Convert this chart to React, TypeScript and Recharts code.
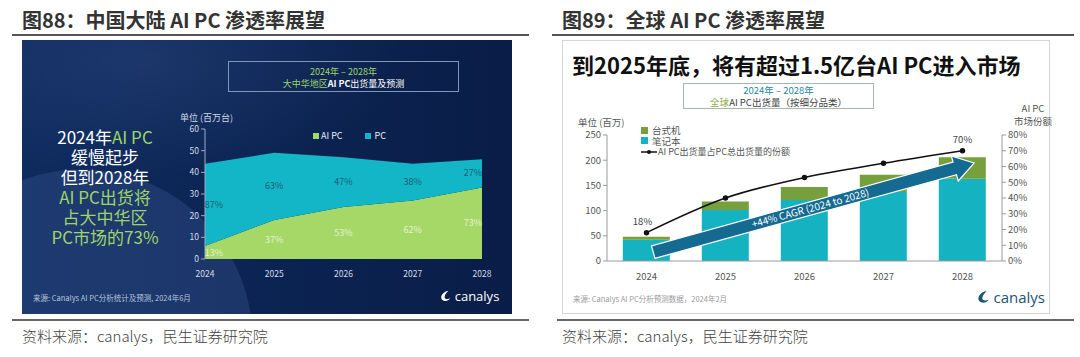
import React from "react";
import { ComposedChart, Area, Bar, Line, XAxis, YAxis, LabelList, ReferenceLine } from "recharts";

const FONT = '"Noto Sans CJK SC", "Noto Sans", sans-serif';

const years = ["2024", "2025", "2026", "2027", "2028"];

// 大中华区出货量（百万台）
const aiPcCn = [6, 18, 24, 27, 33];
const otherPcCn = [38, 31, 23, 17, 13];
const aiShareCn = ["13%", "37%", "53%", "62%", "73%"];
const otherShareCn = ["87%", "63%", "47%", "38%", "27%"];
const cnTicks = [0, 10, 20, 30, 40, 50, 60];

// 全球 AI PC 出货量（百万）
const notebook = [42, 101, 121, 137, 163];
const desktop = [6, 17, 26, 34, 43];
const aiShareGlobal = [18, 40, 53, 62, 70];
const unitTicks = [0, 50, 100, 150, 200, 250];
const shareTicks = [0, 10, 20, 30, 40, 50, 60, 70, 80];

const cnData = years.map((year, i) => ({
  year,
  ai: aiPcCn[i],
  pc: otherPcCn[i],
  aiMid: aiPcCn[i] / 2,
  pcMid: aiPcCn[i] + otherPcCn[i] / 2,
  aiLabel: aiShareCn[i],
  pcLabel: otherShareCn[i],
}));

const globalData = years.map((year, i) => ({
  year,
  notebook: notebook[i],
  desktop: desktop[i],
  share: aiShareGlobal[i],
}));

const cnLabel = (color: string) => (props: any) => {
  const { x, y, value, index } = props;
  const dx = index === 0 ? 9 : index === years.length - 1 ? -9 : 0;
  return (
    <text x={x + dx} y={y} dy={3} textAnchor="middle" fontSize={9} fill={color}>
      {value}
    </text>
  );
};

const shareLabel = (props: any) => {
  const { x, y, value, index } = props;
  if (index !== 0 && index !== years.length - 1) return null;
  return (
    <text x={x - (index === 0 ? 4 : 0)} y={y - 8} textAnchor="middle" fontSize={9.5} fill="#444">
      {value}%
    </text>
  );
};

const CagrArrow = (props: any) => {
  const { x1, y1, x2, y2 } = props;
  const dx = x2 - x1;
  const dy = y2 - y1;
  const len = Math.hypot(dx, dy);
  const ux = dx / len;
  const uy = dy / len;
  const nx = -uy;
  const ny = ux;
  const sx = x1 + ux * 7;
  const sy = y1 + uy * 7;
  const tx = x2 + ux * 12;
  const ty = y2 + uy * 12;
  const body = 6.5;
  const head = 13;
  const headLen = 20;
  const bx = tx - ux * headLen;
  const by = ty - uy * headLen;
  const pts = [
    [sx + nx * body, sy + ny * body],
    [bx + nx * body, by + ny * body],
    [bx + nx * head, by + ny * head],
    [tx, ty],
    [bx - nx * head, by - ny * head],
    [bx - nx * body, by - ny * body],
    [sx - nx * body, sy - ny * body],
  ]
    .map((p) => p.join(","))
    .join(" ");
  const total = Math.hypot(tx - sx, ty - sy);
  const cx = sx + ux * total * 0.49;
  const cy = sy + uy * total * 0.49;
  const angle = (Math.atan2(dy, dx) * 180) / Math.PI;
  return (
    <g>
      <polygon points={pts} fill="#146a91" stroke="#ffffff" strokeWidth={1.2} />
      <text
        x={cx}
        y={cy}
        dy={3.5}
        textAnchor="middle"
        fontSize={10}
        fill="#ffffff"
        transform={`rotate(${angle} ${cx} ${cy})`}
      >
        +44% CAGR (2024 to 2028)
      </text>
    </g>
  );
};

const CanalysLogo = ({ color, size }: { color: string; size: number }) => (
  <div style={{ display: "flex", alignItems: "center", gap: 3, color, fontSize: size, fontFamily: '"Open Sans", sans-serif' }}>
    <svg width={size * 0.9} height={size * 0.9} viewBox="0 0 14 14">
      <path d="M10 1 C4 2 0 7 2 11 C4 14 10 14 12 10 C9 11.5 5 11 5.5 8 C6 5 8.5 3 10 1 Z" fill={color} />
    </svg>
    <span>canalys</span>
  </div>
);

const abs = (left: number, top: number, extra: React.CSSProperties = {}): React.CSSProperties => ({
  position: "absolute",
  left,
  top,
  ...extra,
});

function ChinaChart() {
  return (
    <div
      style={abs(22, 40, {
        width: 490,
        height: 274,
        overflow: "hidden",
        background:
          "radial-gradient(circle at 60px 300px, rgba(70,100,160,0.28) 0, rgba(70,100,160,0.28) 170px, rgba(0,0,0,0) 171px), radial-gradient(ellipse 260px 120px at 120px 20px, rgba(80,110,170,0.22) 0, rgba(0,0,0,0) 100%), linear-gradient(90deg, #0e2b5e 0%, #0b2250 60%, #0a1d48 100%)",
      })}
    >
      <div style={abs(0, 0)}>
        <ComposedChart width={490} height={274} data={cnData} margin={{ top: 89, right: 30, bottom: 35, left: 153 }}>
          <XAxis
            dataKey="year"
            scale="point"
            height={20}
            axisLine={false}
            tickLine={false}
            tick={{ fill: "#d3dbea", fontSize: 8.5 }}
            tickMargin={6}
          />
          <YAxis
            domain={[0, 60]}
            ticks={cnTicks}
            width={30}
            axisLine={{ stroke: "#9aabc8" }}
            tickLine={{ stroke: "#9aabc8" }}
            tickSize={4}
            tick={{ fill: "#d3dbea", fontSize: 8.5 }}
          />
          <Area type="linear" dataKey="ai" stackId="cn" stroke="none" fill="#a6d867" fillOpacity={1} isAnimationActive={false} />
          <Area type="linear" dataKey="pc" stackId="cn" stroke="none" fill="#13b6c6" fillOpacity={1} isAnimationActive={false} />
          <Line dataKey="aiMid" stroke="none" dot={false} activeDot={false} isAnimationActive={false}>
            <LabelList dataKey="aiLabel" content={cnLabel("#e4f3cf")} />
          </Line>
          <Line dataKey="pcMid" stroke="none" dot={false} activeDot={false} isAnimationActive={false}>
            <LabelList dataKey="pcLabel" content={cnLabel("#1c5c78")} />
          </Line>
        </ComposedChart>
      </div>

      <div
        style={abs(206, 21, {
          width: 231,
          height: 31,
          border: "1px solid #7f97bb",
          textAlign: "center",
          fontSize: 9,
          lineHeight: "12px",
          paddingTop: 4,
          boxSizing: "border-box",
        })}
      >
        <div style={{ color: "#9fd46a" }}>2024年 – 2028年</div>
        <div style={{ color: "#ffffff" }}>
          <span style={{ color: "#9fd46a" }}>大中华地区</span>
          <b>AI PC</b>出货量及预测
        </div>
      </div>

      <div style={abs(158, 71, { fontSize: 9, color: "#cfd8ea" })}>单位 (百万台)</div>

      <div style={abs(291, 89, { display: "flex", alignItems: "center", fontSize: 9, color: "#e8eef7" })}>
        <span style={{ width: 6, height: 6, background: "#a6d867", marginRight: 2 }} />
        <span>AI PC</span>
        <span style={{ width: 6, height: 6, background: "#13b6c6", marginLeft: 22, marginRight: 4 }} />
        <span>PC</span>
      </div>

      <div
        style={abs(18, 87, {
          width: 130,
          textAlign: "center",
          fontSize: 17,
          lineHeight: "20px",
          color: "#ffffff",
          whiteSpace: "nowrap",
        })}
      >
        <div>
          2024年<span style={{ color: "#9fd46a" }}>AI PC</span>
        </div>
        <div>缓慢起步</div>
        <div>但到2028年</div>
        <div style={{ color: "#9fd46a" }}>AI PC出货将</div>
        <div style={{ color: "#9fd46a" }}>占大中华区</div>
        <div style={{ color: "#9fd46a" }}>PC市场的73%</div>
      </div>

      <div style={abs(11, 252, { fontSize: 7.5, color: "#b8c4dc" })}>来源: Canalys AI PC分析统计及预测, 2024年6月</div>
      <div style={abs(418, 247)}>
        <CanalysLogo color="#ffffff" size={13} />
      </div>
    </div>
  );
}

function GlobalChart() {
  return (
    <div style={abs(562, 40, { width: 488, height: 274, border: "1px solid #d4d4d4", boxSizing: "border-box", background: "#fff" })}>
      <div style={abs(-1, -1)}>
        <ComposedChart
          width={488}
          height={274}
          data={globalData}
          margin={{ top: 95, right: 18, bottom: 33, left: 15 }}
          barCategoryGap="20%"
        >
          <XAxis
            dataKey="year"
            height={20}
            axisLine={{ stroke: "#9a9a9a" }}
            tickLine={false}
            tick={{ fill: "#555", fontSize: 9.5 }}
            tickMargin={6}
          />
          <YAxis
            yAxisId="left"
            domain={[0, 250]}
            ticks={unitTicks}
            width={30}
            axisLine={{ stroke: "#9a9a9a" }}
            tickLine={{ stroke: "#9a9a9a" }}
            tickSize={4}
            tick={{ fill: "#555", fontSize: 9.5 }}
          />
          <YAxis
            yAxisId="right"
            orientation="right"
            domain={[0, 80]}
            ticks={shareTicks}
            tickFormatter={(v: number) => `${v}%`}
            width={30}
            axisLine={{ stroke: "#9a9a9a" }}
            tickLine={{ stroke: "#9a9a9a" }}
            tickSize={4}
            tick={{ fill: "#555", fontSize: 9.5 }}
          />
          <Bar yAxisId="left" dataKey="notebook" stackId="g" fill="#15b3c1" isAnimationActive={false} />
          <Bar yAxisId="left" dataKey="desktop" stackId="g" fill="#76a03d" isAnimationActive={false} />
          <ReferenceLine
            yAxisId="left"
            segment={[
              { x: "2024", y: 14 },
              { x: "2028", y: 188 },
            ]}
            shape={CagrArrow}
          />
          <Line
            yAxisId="right"
            type="monotone"
            dataKey="share"
            stroke="#111"
            strokeWidth={1.5}
            dot={{ r: 2, fill: "#111", stroke: "#111" }}
            activeDot={false}
            isAnimationActive={false}
          >
            <LabelList dataKey="share" content={shareLabel} />
          </Line>
        </ComposedChart>
      </div>

      <div style={abs(9, 10, { fontSize: 22, fontWeight: 700, color: "#111", lineHeight: "26px", whiteSpace: "nowrap" })}>
        到2025年底，将有超过1.5亿台AI PC进入市场
      </div>

      <div
        style={abs(120, 42, {
          width: 191,
          height: 26,
          border: "1px solid #a8b4b8",
          boxSizing: "border-box",
          textAlign: "center",
          fontSize: 9.5,
          lineHeight: "11.5px",
          paddingTop: 1,
        })}
      >
        <div style={{ color: "#2b8a9c" }}>2024年 – 2028年</div>
        <div style={{ color: "#444" }}>
          <span style={{ color: "#8cb04c" }}>全球</span>AI PC出货量（按细分品类）
        </div>
      </div>

      <div style={abs(15, 74, { fontSize: 9.5, color: "#555" })}>单位 (百万)</div>
      <div style={abs(445, 61, { width: 50, textAlign: "center", fontSize: 9.5, lineHeight: "12.5px", color: "#555" })}>
        <div>AI PC</div>
        <div>市场份额</div>
      </div>

      <div style={abs(78, 84, { fontSize: 9.5, lineHeight: "10.5px", color: "#555" })}>
        <div style={{ display: "flex", alignItems: "center" }}>
          <span style={{ width: 7, height: 7, background: "#76a03d", marginRight: 4 }} />
          台式机
        </div>
        <div style={{ display: "flex", alignItems: "center" }}>
          <span style={{ width: 7, height: 7, background: "#15b3c1", marginRight: 4 }} />
          笔记本
        </div>
        <div style={{ display: "flex", alignItems: "center", fontSize: 9, marginTop: 1 }}>
          <svg width={16} height={6} style={{ marginRight: 1 }}>
            <line x1={0} y1={3} x2={16} y2={3} stroke="#111" strokeWidth={1.5} />
            <circle cx={8} cy={3} r={2} fill="#111" />
          </svg>
          AI PC出货量占PC总出货量的份额
        </div>
      </div>

      <div style={abs(10, 252, { fontSize: 7.5, color: "#9a9a9a" })}>来源: Canalys AI PC分析预测数据，2024年2月</div>
      <div style={abs(414, 246)}>
        <CanalysLogo color="#1d5475" size={15} />
      </div>
    </div>
  );
}

export default function App() {
  return (
    <div style={{ position: "relative", width: 1080, height: 357, background: "#fff", fontFamily: FONT, overflow: "hidden" }}>
      <style>{`body{margin:0}`}</style>

      <div style={abs(22, 7, { fontSize: 20, fontWeight: 700, color: "#333", lineHeight: "26px", whiteSpace: "nowrap" })}>
        图88：中国大陆 AI PC 渗透率展望
      </div>
      <div style={abs(12, 34, { width: 517, height: 2, background: "#555" })} />
      <ChinaChart />
      <div style={abs(12, 319, { width: 517, height: 2, background: "#666" })} />
      <div style={abs(22, 325, { fontSize: 15, fontWeight: 300, color: "#444", whiteSpace: "nowrap" })}>
        资料来源：canalys，民生证券研究院
      </div>

      <div style={abs(562, 7, { fontSize: 20, fontWeight: 700, color: "#333", lineHeight: "26px", whiteSpace: "nowrap" })}>
        图89：全球 AI PC 渗透率展望
      </div>
      <div style={abs(552, 34, { width: 522, height: 2, background: "#555" })} />
      <GlobalChart />
      <div style={abs(557, 319, { width: 517, height: 2, background: "#666" })} />
      <div style={abs(562, 325, { fontSize: 15, fontWeight: 300, color: "#444", whiteSpace: "nowrap" })}>
        资料来源：canalys，民生证券研究院
      </div>
    </div>
  );
}
